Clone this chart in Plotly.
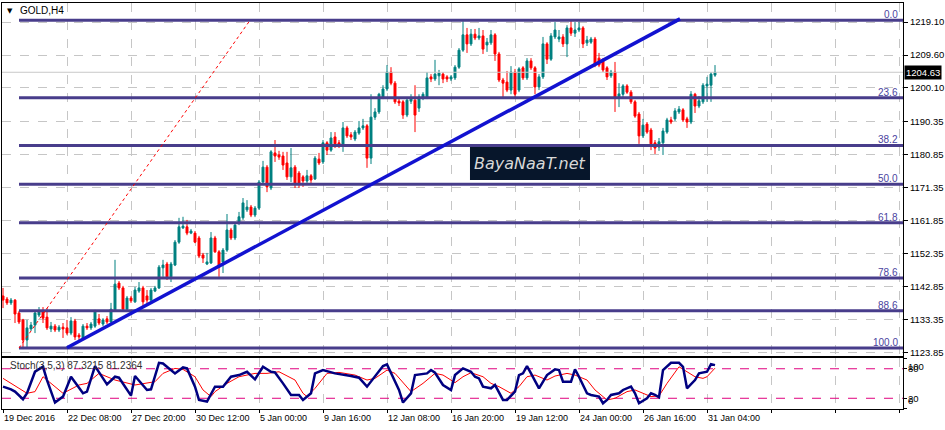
import plotly.graph_objects as go

# ---------------- data ----------------
opens = [1140.2,1139.3,1138.2,1139.0,1135.3,1133.3,1127.5,1130.7,1131.8,1134.7,
1135.6,1134.1,1130.7,1131.5,1130.4,1131.2,1131.0,1129.5,1133.0,1128.9,
1128.1,1131.5,1131.0,1131.5,1133.6,1132.1,1133.6,1132.7,1136.2,1143.9,
1142.5,1136.4,1139.6,1138.5,1141.6,1142.5,1140.2,1139.0,1141.6,1142.5,
1148.3,1149.4,1145.7,1149.1,1155.7,1159.8,1160.1,1158.3,1158.3,1156.9,
1152.0,1149.4,1149.7,1156.9,1152.9,1150.0,1153.4,1159.2,1156.9,1161.2,
1162.7,1165.0,1165.8,1163.5,1165.5,1173.0,1177.3,1171.3,1181.4,1180.8,
1180.5,1178.5,1174.5,1177.3,1175.6,1174.5,1173.3,1174.8,1173.9,1179.6,
1178.8,1184.3,1182.2,1186.0,1184.3,1183.7,1188.6,1186.6,1185.4,1187.1,
1188.6,1189.2,1179.9,1191.7,1193.2,1197.5,1199.8,1204.7,1201.5,1196.3,
1196.1,1192.3,1196.3,1196.6,1194.3,1197.5,1197.5,1203.3,1202.7,1203.6,
1204.1,1203.3,1202.7,1203.0,1206.1,1211.0,1215.4,1212.8,1215.6,1214.5,
1215.1,1212.5,1213.1,1215.4,1209.9,1202.4,1201.8,1199.5,1204.7,1199.5,
1205.9,1203.0,1207.9,1205.9,1200.4,1203.3,1212.8,1208.4,1214.8,1214.2,
1214.8,1212.8,1217.4,1215.9,1216.8,1217.4,1213.1,1213.3,1214.2,1208.7,
1208.2,1205.9,1203.6,1204.7,1197.2,1198.3,1200.7,1198.9,1196.1,1192.6,
1186.3,1189.7,1188.0,1184.3,1183.1,1184.3,1187.4,1190.9,1191.2,1193.2,
1193.8,1191.2,1190.3,1198.3,1194.9,1196.1,1200.7,1200.9,1203.8]

highs = [1142.5,1139.9,1139.6,1139.3,1135.9,1133.6,1133.3,1132.7,1135.9,1137.0,
1137.0,1136.7,1132.7,1132.1,1131.8,1132.4,1133.3,1134.1,1133.6,1129.5,
1132.1,1132.4,1132.7,1136.2,1135.0,1133.8,1134.4,1138.2,1150.6,1144.5,
1143.1,1140.2,1140.2,1142.8,1144.2,1143.1,1141.9,1142.5,1143.1,1149.1,
1150.6,1150.0,1150.0,1156.3,1162.7,1163.0,1162.1,1159.5,1158.9,1157.5,
1152.6,1152.6,1158.6,1157.5,1153.4,1154.0,1163.8,1159.8,1161.5,1164.4,
1168.4,1167.8,1166.4,1166.1,1173.6,1179.1,1177.9,1182.2,1185.1,1182.0,
1181.7,1181.7,1182.8,1177.9,1176.2,1175.0,1176.5,1175.3,1180.5,1181.4,
1185.1,1184.8,1187.4,1187.4,1185.1,1190.3,1189.2,1187.4,1188.0,1190.6,
1191.2,1189.7,1198.3,1194.3,1198.7,1200.9,1206.7,1206.1,1202.1,1197.2,
1196.6,1197.2,1198.3,1200.9,1198.3,1198.9,1204.7,1204.1,1208.2,1205.3,
1204.7,1203.8,1203.8,1206.7,1211.6,1219.3,1217.4,1217.1,1217.1,1217.4,
1216.8,1214.5,1216.8,1215.9,1210.5,1203.0,1205.0,1206.4,1205.6,1206.1,
1206.4,1208.7,1208.7,1206.4,1204.1,1214.8,1213.3,1215.9,1219.1,1216.8,
1215.6,1218.2,1219.6,1219.1,1219.1,1217.9,1215.1,1214.8,1214.8,1210.2,
1208.7,1206.4,1205.3,1207.6,1201.5,1201.2,1201.2,1199.5,1196.6,1193.2,
1191.2,1190.3,1188.6,1185.1,1185.7,1188.6,1191.5,1191.8,1194.3,1194.9,
1194.3,1191.8,1199.2,1198.7,1197.8,1201.5,1203.3,1204.7,1206.7]

lows = [1136.7,1137.6,1137.6,1132.4,1132.1,1124.9,1125.2,1130.1,1129.5,1134.1,
1132.4,1130.4,1129.8,1129.8,1129.8,1128.1,1128.9,1128.9,1127.5,1127.5,
1127.8,1130.4,1130.4,1131.0,1131.8,1131.5,1132.1,1132.4,1135.9,1141.9,
1136.2,1136.2,1138.2,1138.2,1141.1,1136.7,1137.3,1138.5,1141.3,1142.2,
1145.7,1144.8,1144.2,1148.8,1155.2,1159.5,1157.7,1158.0,1155.4,1151.1,
1149.7,1149.1,1149.4,1152.6,1145.7,1146.8,1152.9,1156.3,1156.3,1160.6,
1162.1,1164.4,1162.9,1162.9,1165.0,1172.4,1170.1,1170.7,1178.8,1179.4,
1176.5,1173.6,1173.0,1171.3,1171.3,1171.6,1172.7,1172.4,1173.6,1177.9,
1178.2,1180.8,1181.7,1182.8,1182.8,1181.7,1185.7,1185.1,1184.8,1186.6,
1188.0,1177.1,1178.2,1190.9,1192.6,1196.9,1199.2,1200.9,1195.5,1194.9,
1191.2,1191.7,1195.5,1187.4,1193.2,1196.6,1196.9,1201.8,1202.1,1200.9,
1201.5,1201.8,1202.1,1202.4,1205.6,1210.5,1210.2,1212.2,1213.9,1213.9,
1209.9,1210.5,1212.5,1207.9,1201.8,1197.5,1198.9,1198.3,1197.2,1198.9,
1202.4,1202.4,1205.3,1198.3,1199.5,1202.7,1207.0,1207.9,1214.2,1213.3,
1211.9,1209.0,1215.1,1214.8,1216.2,1211.6,1212.2,1212.8,1206.1,1206.1,
1204.7,1202.4,1203.0,1193.2,1194.6,1197.5,1198.4,1195.5,1191.5,1184.0,
1185.7,1186.9,1182.2,1181.1,1182.0,1180.8,1186.9,1189.7,1190.6,1192.6,
1190.3,1188.6,1189.7,1192.9,1194.3,1195.5,1196.1,1196.1,1203.3]

closes = [1139.0,1138.2,1139.0,1135.0,1132.7,1127.5,1131.0,1131.8,1135.3,1135.9,
1133.8,1131.0,1131.5,1130.4,1131.2,1130.7,1129.5,1133.0,1128.4,1128.4,
1131.5,1131.0,1132.1,1135.6,1132.4,1133.3,1132.7,1136.4,1143.6,1142.5,
1136.4,1139.6,1138.8,1141.9,1142.5,1138.5,1139.0,1141.9,1142.5,1148.5,
1149.1,1145.7,1149.4,1155.7,1160.1,1160.3,1158.3,1158.9,1155.7,1151.7,
1151.1,1150.0,1156.9,1152.9,1148.5,1153.4,1159.2,1156.9,1160.6,1163.0,
1167.0,1165.8,1163.5,1165.5,1173.0,1177.3,1171.6,1181.7,1180.5,1180.2,
1177.9,1174.5,1177.1,1172.7,1172.7,1173.3,1174.8,1173.6,1179.9,1178.5,
1184.3,1182.2,1185.7,1184.0,1183.7,1188.6,1186.3,1186.0,1187.4,1188.6,
1189.2,1179.9,1191.7,1193.2,1198.3,1199.8,1204.7,1201.5,1196.1,1195.8,
1192.3,1196.6,1196.9,1192.3,1197.5,1198.3,1203.0,1202.7,1204.1,1204.4,
1202.7,1202.7,1203.3,1206.1,1211.0,1215.4,1212.8,1215.6,1214.5,1215.1,
1211.3,1213.3,1215.4,1209.9,1202.4,1201.5,1199.5,1204.7,1198.3,1205.6,
1203.0,1207.9,1205.9,1200.4,1203.3,1212.8,1208.4,1215.1,1216.8,1214.8,
1212.8,1217.4,1215.9,1216.8,1217.4,1212.8,1213.9,1214.2,1206.7,1206.7,
1205.3,1203.3,1204.7,1197.5,1198.4,1200.7,1198.9,1196.1,1192.0,1186.3,
1189.4,1187.4,1184.0,1182.8,1184.6,1187.7,1190.9,1190.3,1193.5,1194.0,
1190.9,1190.3,1198.3,1194.9,1196.4,1200.9,1201.2,1204.1,1204.63]

# Stochastic(3,5,3) main (%K) and signal (%D)
stoch_k_bar = [0,2,3,5,6,8,10,11,13,15,17,20,21,23,26,28,29,32,33,36,37,39,40,43,45,46,48,49,51,53,55,57,59,61,63,65,67,68,70,72,74,75,77,78,80,83,87,89,91,93,95,96,99,100,102,103,106,107,108,110,112,113,115,117,118,119,120,122,123,125,126,128,129,130,131,132,134,136,138,139,140,142,143,144,146,147,149,150,151,152,154,155,157,158,159,161,162,163,164,165,167,169,170,171,173,174,176,177,178]
stoch_k = [43.6,38.2,33.5,18.0,30.1,74.0,84.0,57.0,11.3,23.4,63.8,30.1,33.5,85.4,48.3,63.8,61.8,25.4,65.2,36.9,38.2,92.1,90.8,70.6,82.7,80.7,43.6,16.6,13.3,43.6,43.6,63.8,67.2,73.9,58.4,84.0,73.9,72.6,50.3,26.8,26.8,16.6,30.1,70.6,77.3,70.6,65.2,61.8,43.6,63.8,85.4,88.8,36.9,11.3,30.1,67.2,70.6,77.3,71.9,47.0,36.9,67.2,80.7,73.9,63.8,60.5,43.6,40.2,47.0,16.6,16.6,33.5,67.2,70.6,85.4,70.6,40.2,67.2,78.7,77.3,53.7,53.7,78.7,63.8,30.1,26.8,23.4,9.9,16.6,26.8,30.1,36.9,43.6,30.1,9.9,20.0,30.1,26.8,22.0,77.3,92.1,92.1,84.0,40.2,57.1,70.6,73.9,89.4,87.3215]
stoch_d_bar = [0,6,8,10,15,19,21,24,26,28,33,36,38,40,43,45,48,50,52,53,56,59,63,66,69,73,75,76,78,81,84,88,91,93,96,98,101,102,105,108,110,113,115,117,120,122,124,127,129,131,133,136,138,141,143,146,148,151,153,156,158,160,162,164,166,169,171,173,175,176,178]
stoch_d = [60.5,30.1,33.5,63.8,30.1,47.0,50.3,70.6,63.8,57.1,47.0,50.3,53.7,70.6,80.7,78.7,63.8,36.9,23.4,33.5,50.3,63.8,70.6,70.6,73.9,57.1,30.1,23.4,40.2,70.6,72.6,67.2,57.1,60.5,77.3,70.6,43.6,33.5,50.3,70.6,67.2,51.7,63.8,72.0,63.8,50.3,43.6,30.1,43.6,63.8,67.2,57.1,65.2,70.6,67.2,57.1,36.9,16.6,20.0,33.5,36.9,30.1,23.4,24.7,50.3,84.0,73.9,63.8,60.5,63.8,81.2364]
stoch_levels = [20, 80]
stoch_scale = [0, 20, 80, 100]

# Fibonacci retracement anchors (bar index, price)
fib_bars = [4, 61.75]
fib_prices = [1125.2, 1219.6]
fib_ratios = [0.0, 23.6, 38.2, 50.0, 61.8, 78.6, 88.6, 100.0]

# Trend line anchors
trend_bars = [16, 169.25]
trend_prices = [1125.3, 1220.0]

last_price = 1204.63
price_ticks = [1123.85, 1133.35, 1142.85, 1152.35, 1161.85, 1171.35,
               1180.85, 1190.35, 1200.10, 1209.60, 1219.10]
date_labels = ["19 Dec 2016", "22 Dec 08:00", "27 Dec 20:00", "30 Dec 12:00",
               "5 Jan 00:00", "9 Jan 16:00", "12 Jan 08:00", "16 Jan 20:00",
               "19 Jan 12:00", "24 Jan 00:00", "26 Jan 16:00", "31 Jan 04:00"]
bars_per_label = 16
n_slots = 225

# ---------------- figure ----------------
bars = list(range(len(closes)))
x_range = [-0.25, n_slots]
tick_pos = list(range(0, n_slots + 1, bars_per_label))
tick_txt = date_labels + [""] * (len(tick_pos) - len(date_labels))

FONT = "Liberation Sans, Arial, sans-serif"
GRID = "#c6c6c6"
FIBC = "#483D8B"

fig = go.Figure()

# current price line
fig.add_trace(go.Scatter(x=x_range, y=[last_price, last_price], mode="lines",
                         line=dict(color="#c8c8c8", width=1), hoverinfo="skip",
                         xaxis="x", yaxis="y"))

fig.add_trace(go.Candlestick(
    x=bars, open=opens, high=highs, low=lows, close=closes,
    increasing=dict(line=dict(color="#008080", width=1), fillcolor="#008080"),
    decreasing=dict(line=dict(color="#ff0000", width=1), fillcolor="#ff0000"),
    whiskerwidth=0, xaxis="x", yaxis="y"))

# Fibonacci levels
hi, lo = fib_prices[1], fib_prices[0]
for r in fib_ratios:
    lvl = hi - (hi - lo) * r / 100.0
    fig.add_trace(go.Scatter(x=[fib_bars[0], n_slots], y=[lvl, lvl], mode="lines",
                             line=dict(color=FIBC, width=3), hoverinfo="skip",
                             xaxis="x", yaxis="y"))
    fig.add_annotation(x=n_slots - 0.8, y=lvl, xref="x", yref="y", text=f"{r:.1f}",
                       showarrow=False, xanchor="right", yanchor="bottom",
                       font=dict(family=FONT, size=10, color="#4a44a0"),
                       yshift=-2)

# fib anchor dotted line
fig.add_trace(go.Scatter(x=fib_bars, y=fib_prices, mode="lines",
                         line=dict(color="#ff0000", width=1, dash="dot"),
                         hoverinfo="skip", xaxis="x", yaxis="y"))
# trend line
fig.add_trace(go.Scatter(x=trend_bars, y=trend_prices, mode="lines",
                         line=dict(color="#1212d0", width=3.5),
                         hoverinfo="skip", xaxis="x", yaxis="y"))

# stochastic levels
for lv in stoch_levels:
    fig.add_trace(go.Scatter(x=x_range, y=[lv, lv], mode="lines",
                             line=dict(color="#e0007f", width=1, dash="dash"),
                             hoverinfo="skip", xaxis="x2", yaxis="y2"))
fig.add_trace(go.Scatter(x=stoch_d_bar, y=stoch_d, mode="lines",
                         line=dict(color="#ff0000", width=1),
                         hoverinfo="skip", xaxis="x2", yaxis="y2"))
fig.add_trace(go.Scatter(x=stoch_k_bar, y=stoch_k, mode="lines",
                         line=dict(color="#000080", width=2.5),
                         hoverinfo="skip", xaxis="x2", yaxis="y2"))

axis_common = dict(showline=True, linecolor="black", linewidth=1, mirror=True,
                   zeroline=False, fixedrange=True, automargin=False)

fig.update_layout(
    width=945, height=430,
    margin=dict(l=2, r=42, t=3, b=21),
    paper_bgcolor="white", plot_bgcolor="white",
    showlegend=False,
    font=dict(family=FONT, size=10, color="black"),
    xaxis=dict(domain=[0, 1], anchor="y", range=x_range, tickvals=tick_pos,
               showticklabels=False, ticks="", showgrid=True, gridcolor=GRID,
               griddash="dash", gridwidth=1, rangeslider=dict(visible=False),
               **axis_common),
    yaxis=dict(domain=[0.1313, 1], anchor="x", side="right",
               range=[1122.99, 1224.58], tickvals=price_ticks,
               ticktext=[f"{v:.2f}" for v in price_ticks],
               ticks="outside", ticklen=4, tickcolor="black",
               showgrid=True, gridcolor=GRID, griddash="dash", gridwidth=1,
               tickfont=dict(family=FONT, size=9.5, color="black"),
               **axis_common),
    xaxis2=dict(domain=[0, 1], anchor="y2", matches="x", range=x_range,
                tickvals=tick_pos, ticktext=tick_txt, ticks="outside", ticklen=3,
                tickcolor="black", ticklabelposition="outside right", tickangle=0,
                showgrid=True, gridcolor=GRID, griddash="dash", gridwidth=1,
                tickfont=dict(family=FONT, size=9, color="black"),
                rangeslider=dict(visible=False), **axis_common),
    yaxis2=dict(domain=[0, 0.1264], anchor="x2", side="right", range=[-1.8, 102.5],
                tickvals=stoch_scale, showticklabels=False,
                ticks="outside", ticklen=3, tickcolor="black", showgrid=False,
                **axis_common),
)

# stochastic scale labels (MT4 style: clamped inside the panel)
stoch_anchor = {0: "bottom", 20: "middle", 80: "middle", 100: "top"}
for v in stoch_scale:
    fig.add_annotation(x=1, xref="paper", y=v, yref="y2", text=str(v),
                       showarrow=False, xanchor="left", xshift=3,
                       yanchor=stoch_anchor[v],
                       font=dict(family=FONT, size=9.5, color="black"))

# last price box on the price scale
fig.add_annotation(x=1, xref="paper", y=last_price, yref="y", text=f"{last_price:.2f}",
                   showarrow=False, xanchor="left", xshift=1, bgcolor="black",
                   font=dict(family=FONT, size=9.5, color="white"), borderpad=1)

# chart title
fig.add_annotation(x=0.0085, xref="paper", y=0.981, yref="paper", text="▼",
                   showarrow=False, xanchor="center", yanchor="middle",
                   font=dict(family="DejaVu Sans", size=7, color="black"))
fig.add_annotation(x=0.0175, xref="paper", y=0.981, yref="paper", text="GOLD,H4",
                   showarrow=False, xanchor="left", yanchor="middle",
                   font=dict(family=FONT, size=10, color="black"))

# indicator caption
fig.add_annotation(x=0.0067, xref="paper", y=86, yref="y2",
                   text=f"Stoch(3,5,3) {stoch_k[-1]:.4f} {stoch_d[-1]:.4f}",
                   showarrow=False, xanchor="left", yanchor="middle",
                   font=dict(family=FONT, size=10, color="#303030"))

# watermark
fig.add_shape(type="rect", xref="paper", yref="paper", x0=0.5194, x1=0.6526,
              y0=0.564, y1=0.6453, fillcolor="#07162b", line=dict(width=0))
fig.add_annotation(x=0.586, xref="paper", y=0.6047, yref="paper",
                   text="<i>BayaNaaT.net</i>", showarrow=False,
                   font=dict(family="DejaVu Sans", size=16, color="#d8d8d8"))

fig.write_html("out.html", config={"displayModeBar": False},
               post_script="document.body.style.margin='0';"
                           "document.body.style.overflow='hidden';")
